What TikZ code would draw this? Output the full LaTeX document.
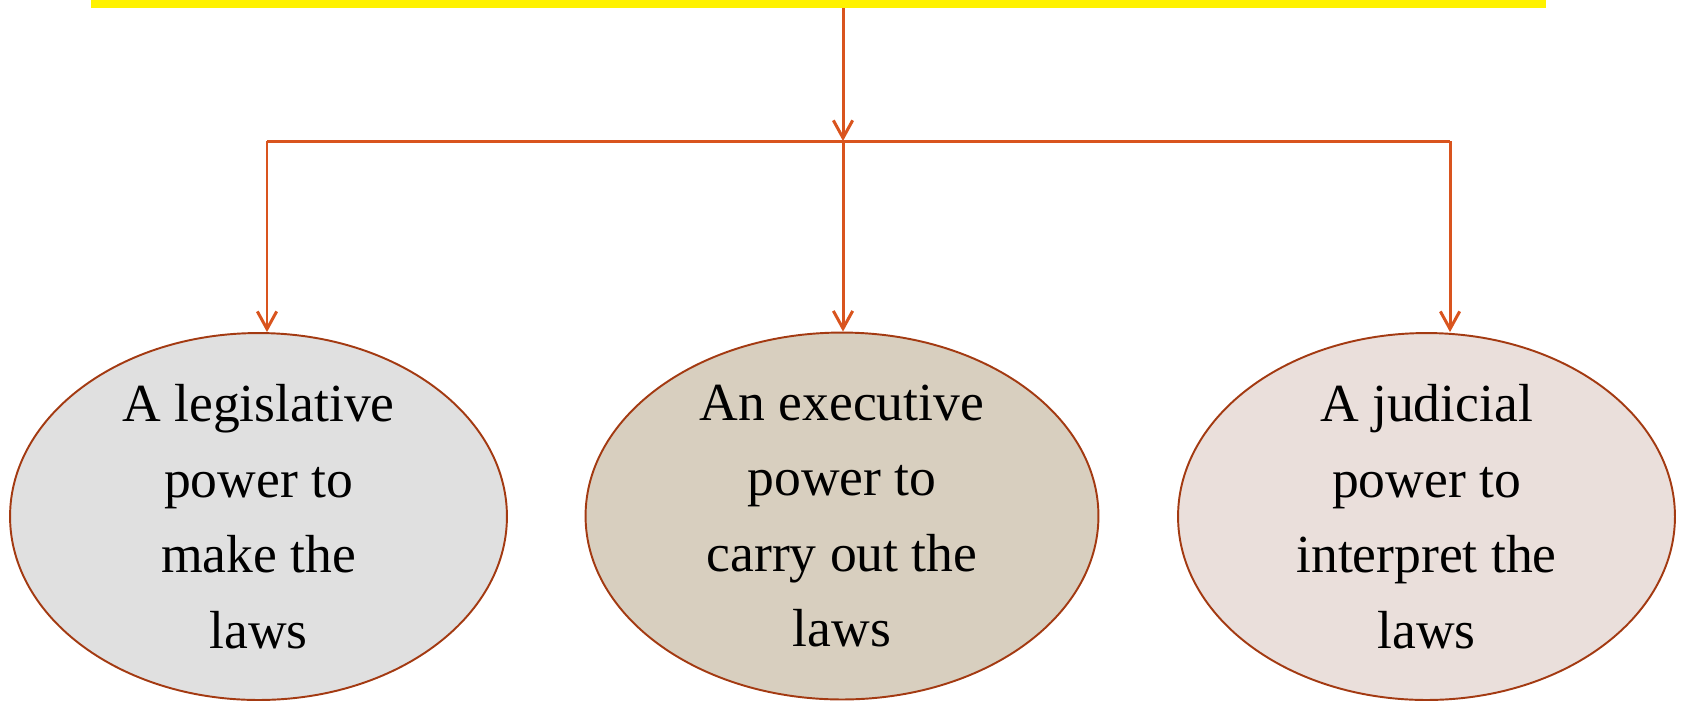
\documentclass[tikz,border=0pt]{standalone}
\usepackage{fontspec}
\setmainfont{Liberation Serif}
\usetikzlibrary{shapes.geometric,arrows.meta}

\definecolor{linkred}{RGB}{217,84,30}
\definecolor{rimbrown}{RGB}{163,58,18}
\definecolor{legisgray}{RGB}{224,224,224}
\definecolor{execsand}{RGB}{216,207,191}
\definecolor{judgerose}{RGB}{234,223,219}

\tikzset{
  power/.style={ellipse, draw=rimbrown, line width=1.1pt,
    minimum width=9.94cm, minimum height=7.34cm,
    inner xsep=0pt, inner ysep=-0.2cm, align=center,
    font=\fontsize{30.5}{43}\selectfont},
  link/.style={draw=linkred, line width=1.7pt},
}

\begin{document}
\begin{tikzpicture}[x=0.02cm, y=-0.02cm, >={Straight Barb[length=10pt,width=11pt]}]
  \useasboundingbox (0,0) rectangle (1682,701);

  \node [fill=yellow, minimum width=29.1cm, minimum height=0.32cm, inner sep=0pt] (title) at (818.5,0) {};

  \node [power, fill=legisgray] (legis) at (258.5,516.5) {A legislative\\power to\\make the\\laws};
  \node [power, fill=execsand, minimum width=10.26cm] (exec) at (842,516) {An executive\\power to\\carry out the\\laws};
  \node [power, fill=judgerose] (judic) at (1426.5,516.5) {A judicial\\power to\\interpret the\\laws};

  \coordinate (hub) at (843,141);
  \coordinate (hub-l) at (267,141);
  \coordinate (hub-r) at (1450,141);

  \draw [link, ->] (title.south -| hub) -- (hub);
  \draw [link] (hub-l) -- (hub-r);
  \foreach \a/\b in {hub-l/legis, hub/exec, hub-r/judic}
    \draw [link, ->] (\a) -- (\a |- \b.north);
\end{tikzpicture}
\end{document}
